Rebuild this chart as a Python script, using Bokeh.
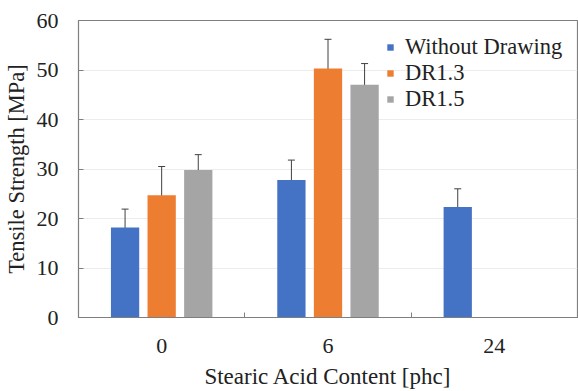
import math
from bokeh.plotting import figure
from bokeh.models import (ColumnDataSource, FixedTicker, Whisker, TeeHead, Legend, LegendItem, Range1d)
from bokeh.transform import dodge
from bokeh.embed import file_html
from bokeh.resources import INLINE

categories = ["0", "6", "24"]
series_names = ["Without Drawing", "DR1.3", "DR1.5"]
without_drawing = [18.2, 27.8, 22.3]
without_drawing_err = [3.7, 4.0, 3.7]
dr13 = [24.7, 50.3, float("nan")]
dr13_err = [5.8, 5.9, float("nan")]
dr15 = [29.8, 47.0, float("nan")]
dr15_err = [3.1, 4.3, float("nan")]
y_ticks = [0, 10, 20, 30, 40, 50, 60]

colors = ["#4472C4", "#ED7D31", "#A5A5A5"]
offsets = [-0.22, 0.0, 0.22]
FONT = "Liberation Serif"

xpos = [i + 0.5 for i in range(len(categories))]

p = figure(width=578, height=391, output_backend="svg", toolbar_location=None,
           x_range=Range1d(0, len(categories)), y_range=Range1d(0, 60),
           min_border_left=78, min_border_right=1, min_border_top=20, min_border_bottom=71)
p.outline_line_color = "#7f7f7f"
p.outline_line_width = 1.2
p.background_fill_color = "white"
p.border_fill_color = "white"

items = []
for vals, errs, name, col, off in zip([without_drawing, dr13, dr15],
                                       [without_drawing_err, dr13_err, dr15_err],
                                       series_names, colors, offsets):
    src = ColumnDataSource(dict(x=xpos, top=vals,
                                upper=[v + e for v, e in zip(vals, errs)],
                                lower=[v - e for v, e in zip(vals, errs)]))
    r = p.vbar(x=dodge("x", off, range=p.x_range), top="top", width=0.17, source=src,
               fill_color=col, line_color=None)
    w = Whisker(base=dodge("x", off, range=p.x_range), upper="upper", lower="lower", source=src,
                line_color="#404040", line_width=1,
                upper_head=TeeHead(size=7, line_color="#404040", line_width=1),
                lower_head=TeeHead(size=0, line_alpha=0))
    p.add_layout(w)
    items.append(LegendItem(label=name, renderers=[r]))

legend = Legend(items=items, location=(308, 205), padding=5, spacing=0,
                glyph_width=8, glyph_height=8, label_standoff=11,
                label_text_font=FONT, label_text_font_size="22.5px", label_text_color="#222222",
                label_text_font_style="normal",
                border_line_color=None, background_fill_alpha=0)
p.add_layout(legend)

p.xaxis.ticker = FixedTicker(ticks=xpos, minor_ticks=[1, 2])
p.xaxis.major_label_overrides = {x: c for x, c in zip(xpos, categories)}
p.xaxis.major_tick_line_color = None
p.xaxis.minor_tick_in = 5
p.xaxis.minor_tick_out = 0
p.xaxis.minor_tick_line_color = "#7f7f7f"
p.xaxis.axis_line_color = "#7f7f7f"
p.xaxis.major_label_standoff = 15
p.xaxis.axis_label = "Stearic Acid Content [phc]"
p.xaxis.axis_label_standoff = 8
p.xaxis.axis_label_text_font_size = "23px"

p.yaxis.ticker = FixedTicker(ticks=y_ticks)
p.yaxis.minor_tick_line_color = None
p.yaxis.major_tick_in = 5
p.yaxis.major_tick_out = 0
p.yaxis.major_tick_line_color = "#7f7f7f"
p.yaxis.axis_line_color = "#7f7f7f"
p.yaxis.major_label_standoff = 20
p.yaxis.axis_label = "Tensile Strength [MPa]"
p.yaxis.axis_label_standoff = 5
p.yaxis.axis_label_text_font_size = "22.5px"

for ax in [p.xaxis, p.yaxis]:
    ax.major_label_text_font = FONT
    ax.major_label_text_font_size = "22px"
    ax.major_label_text_font_style = "normal"
    ax.major_label_text_color = "#222222"
    ax.axis_label_text_font = FONT
    ax.axis_label_text_font_style = "normal"
    ax.axis_label_text_color = "#222222"

p.xgrid.grid_line_color = None
p.ygrid.grid_line_color = "#ececec"

open("out.html", "w").write(file_html(p, INLINE))
